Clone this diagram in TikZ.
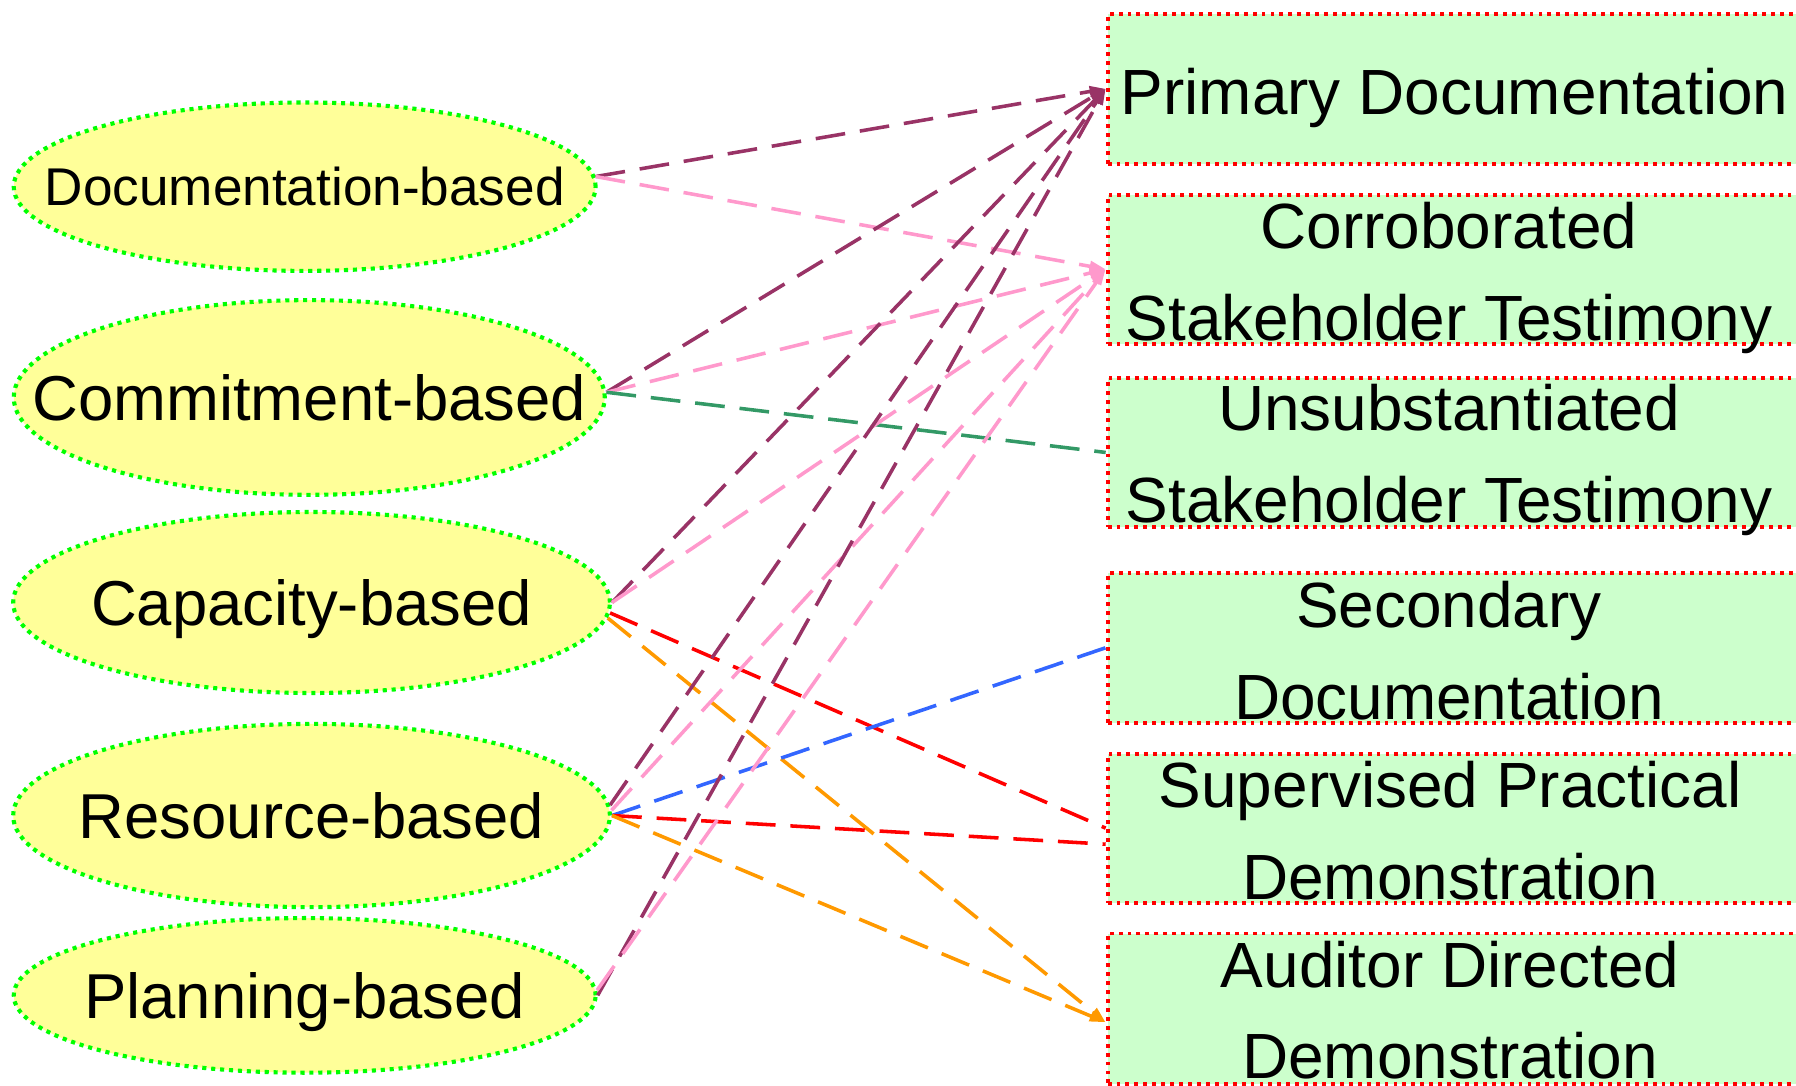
\documentclass[tikz,border=0pt]{standalone}
\usepackage{fontspec}
\setmainfont{Liberation Sans}
\usetikzlibrary{arrows.meta,shapes.geometric}

\definecolor{plum}{HTML}{993366}
\definecolor{rosepink}{HTML}{FF99CC}
\definecolor{seagreen}{HTML}{339966}
\definecolor{royal}{HTML}{3366FF}
\definecolor{tangerine}{HTML}{FF9900}
\definecolor{fillyellow}{HTML}{FFFF99}
\definecolor{fillgreen}{HTML}{CCFFCC}
\definecolor{dotgreen}{HTML}{00FF00}

% centred label that does not widen the ellipse around it
\newcommand\inellipse[1]{\smash{\makebox[0pt]{\raisebox{-0.358em}{#1}}}}
% two-line label whose baseline is the first line
\newcommand\twolines[2]{\begin{tabular}[t]{@{}c@{}}#1\\#2\end{tabular}}

\begin{document}
\begin{tikzpicture}[x=1pt,y=-1pt,
  basis/.style={ellipse, draw=dotgreen, fill=fillyellow, line width=3.6pt,
    dash pattern=on 3.6pt off 4.2pt, inner sep=0pt,
    font=\fontsize{55.4}{60}\selectfont},
  evidence/.style={rectangle, draw=red, fill=fillgreen, line width=3.4pt,
    dash pattern=on 3.4pt off 4.4pt, inner sep=0pt, minimum width=604pt},
  evtext/.style={anchor=base, inner sep=0pt, font=\fontsize{55.8}{80}\selectfont},
  link/.style={line width=3.1pt, dash pattern=on 26pt off 13pt},
  tipped/.style={-{Triangle[length=14pt,width=9pt]}}]

\useasboundingbox (0,0) rectangle (1568,948);

% kinds of basis
\node[basis, minimum width=508pt, minimum height=147pt,
      font=\fontsize{46.4}{50}\selectfont] (doc) at (266,163) {\inellipse{Documentation-based}};
\node[basis, minimum width=516pt, minimum height=170pt] (com) at (270,347) {\inellipse{Commitment-based}};
\node[basis, minimum width=521pt, minimum height=158pt] (cap) at (272,526) {\inellipse{Capacity-based}};
\node[basis, minimum width=521pt, minimum height=160pt] (res) at (272,712) {\inellipse{Resource-based}};
\node[basis, minimum width=508pt, minimum height=135pt] (pla) at (266,869) {\inellipse{Planning-based}};

% kinds of evidence
\node[evidence, minimum height=131pt] (prim) at (1269,77.5) {};
\node[evidence, minimum height=130pt] (corr) at (1269,235) {};
\node[evidence, minimum height=130pt] (unsub) at (1269,395) {};
\node[evidence, minimum height=131pt] (sec) at (1269,565.5) {};
\node[evidence, minimum height=130pt] (sup) at (1269,723) {};
\node[evidence, minimum height=131pt] (aud) at (1269,880.5) {};

\node[evtext] (primtext) at (1270,100) {Primary Documentation};
\node[evtext] (corrtext) at (1265,217) {\twolines{Corroborated}{Stakeholder Testimony}};
\node[evtext] (unsubtext) at (1265,376) {\twolines{Unsubstantiated}{Stakeholder Testimony}};
\node[evtext] (sectext) at (1265,548) {\twolines{Secondary}{Documentation}};
\node[evtext] (suptext) at (1266,705) {\twolines{Supervised Practical}{Demonstration}};
\node[evtext] (audtext) at (1266,862) {\twolines{Auditor Directed}{Demonstration}};

% links
\draw[link, plum, tipped] (doc.2) -- (prim.west);
\draw[link, rosepink, tipped] (doc.2) -- (corr.west);

\draw[link, plum, tipped] (com.1.5) -- (prim.west);
\draw[link, rosepink, tipped] (com.1.5) -- (corr.west);
\draw[link, seagreen] (com.1) -- (unsub.west);

\draw[link, plum, tipped] (cap.0.3) -- (prim.west);
\draw[link, rosepink, tipped] (cap.0.3) -- (corr.west);
\draw[link, red] (cap.-2) -- (sup.west);
\draw[link, tangerine, tipped] (cap.-3) -- ([yshift=-12pt]aud.west);

\draw[link, plum, tipped] (res.2.6) -- (prim.west);
\draw[link, rosepink, tipped] (res.1.5) -- (corr.west);
\draw[link, royal] (res.east) -- (sec.west);
\draw[link, red] (res.east) -- ([yshift=-14pt]sup.west);
\draw[link, tangerine, tipped] (res.east) -- ([yshift=-12pt]aud.west);

\draw[link, plum, tipped] (pla.east) -- (prim.west);
\draw[link, rosepink, tipped] (pla.1) -- (corr.west);
\end{tikzpicture}
\end{document}
